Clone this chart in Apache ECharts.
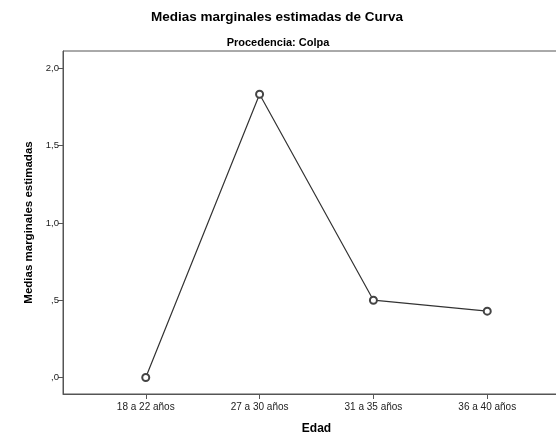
<!DOCTYPE html>
<html>
<head>
<meta charset="utf-8">
<script src="https://cdn.jsdelivr.net/npm/echarts@6/dist/echarts.min.js"></script>
<style>
  html, body { margin: 0; padding: 0; background: #fff; }
  #chart { width: 556px; height: 441px; }
</style>
</head>
<body>
<div id="chart"></div>
<script>
// Age groups on the horizontal axis
const categories = ['18 a 22 años', '27 a 30 años', '31 a 35 años', '36 a 40 años'];
// Estimated marginal means for each age group
const means = [0.0, 1.833, 0.5, 0.429];
// Vertical axis ticks and their labels
const yTicks = [0, 0.5, 1.0, 1.5, 2.0];
const yTickLabels = [',0', ',5', '1,0', '1,5', '2,0'];

const FONT = '"Liberation Sans", Arial, sans-serif';
const INK = '#333';

const chart = echarts.init(document.getElementById('chart'), null, { renderer: 'canvas' });

const xIdx = categories.map((_, i) => i);

chart.setOption({
  animation: false,
  backgroundColor: '#fff',
  title: [
    {
      text: 'Medias marginales estimadas de Curva',
      left: 272, top: 5, textAlign: 'center',
      textStyle: { fontFamily: FONT, fontSize: 13.5, fontWeight: 'bold', color: '#000' }
    },
    {
      text: 'Procedencia: Colpa',
      left: 273, top: 32, textAlign: 'center',
      textStyle: { fontFamily: FONT, fontSize: 11, fontWeight: 'bold', color: '#000' }
    }
  ],
  grid: {
    left: 63, top: 51, width: 507, height: 343,
    outerBoundsMode: 'none', containLabel: false,
    show: true, borderColor: '#555', borderWidth: 1, backgroundColor: 'transparent'
  },
  xAxis: {
    type: 'value',
    min: -0.727, max: 3.727,
    name: 'Edad', nameLocation: 'middle', nameGap: 29,
    nameTextStyle: { fontFamily: FONT, fontSize: 12, fontWeight: 'bold', color: '#000' },
    axisLine: { show: true, onZero: false, lineStyle: { color: '#555', width: 1 } },
    axisTick: { show: true, customValues: xIdx, length: 5, lineStyle: { color: '#555' } },
    axisLabel: {
      customValues: xIdx, margin: 8,
      fontFamily: FONT, fontSize: 10, color: '#222',
      formatter: v => categories[Math.round(v)]
    },
    splitLine: { show: false }
  },
  yAxis: {
    type: 'value',
    min: -0.107, max: 2.113,
    name: 'Medias marginales estimadas', nameLocation: 'middle', nameGap: 25,
    nameTextStyle: { fontFamily: FONT, fontSize: 11.5, fontWeight: 'bold', color: '#000' },
    axisLine: { show: true, onZero: false, lineStyle: { color: '#555', width: 1 } },
    axisTick: { show: true, customValues: yTicks, length: 5, lineStyle: { color: '#555' } },
    axisLabel: {
      customValues: yTicks, margin: 4,
      fontFamily: FONT, fontSize: 9.5, color: '#222',
      formatter: v => yTickLabels[yTicks.findIndex(t => Math.abs(t - v) < 1e-6)]
    },
    splitLine: { show: false }
  },
  series: [{
    type: 'line',
    data: means.map((m, i) => [xIdx[i], m]),
    lineStyle: { color: INK, width: 1.2 },
    symbol: 'emptyCircle', symbolSize: 7,
    itemStyle: { color: '#444', borderColor: '#444', borderWidth: 0.9 },
    emphasis: { disabled: true }
  }]
});
</script>
</body>
</html>
